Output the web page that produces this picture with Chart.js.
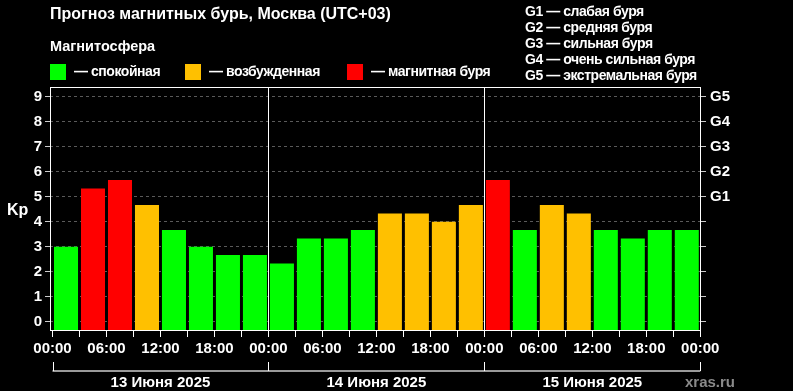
<!DOCTYPE html>
<html><head><meta charset="utf-8">
<script src="https://cdn.jsdelivr.net/npm/chart.js@4/dist/chart.umd.min.js"></script>
<style>
html,body{margin:0;padding:0;background:#000;}
#wrap{position:relative;width:793px;height:391px;background:#000;overflow:hidden;font-family:"Liberation Sans",Arial,sans-serif;font-weight:bold;color:#fff;}
#c{position:absolute;left:0;top:0;}
.t{position:absolute;white-space:nowrap;line-height:1;}
.lg{letter-spacing:-0.45px;}
.sq{position:absolute;width:16px;height:16px;}
</style></head><body>
<div id="wrap">
<canvas id="c" width="793" height="391"></canvas>
<div class="t" style="left:50px;top:6px;font-size:16px">Прогноз магнитных бурь, Москва (UTC+03)</div>
<div class="t" style="left:50px;top:39px;font-size:14.5px">Магнитосфера</div>
<div class="sq" style="left:50px;top:64px;background:#00ff00"></div>
<div class="t lg" style="left:74px;top:64px;font-size:14px">— спокойная</div>
<div class="sq" style="left:185px;top:64px;background:#ffc000"></div>
<div class="t lg" style="left:209px;top:64px;font-size:14px">— возбужденная</div>
<div class="sq" style="left:347px;top:64px;background:#ff0000"></div>
<div class="t lg" style="left:371px;top:64px;font-size:14px">— магнитная буря</div>
<div class="t lg" id="glist" style="left:525px;top:3px;font-size:14px;line-height:16px"></div>
<div class="t" style="left:7px;top:202px;font-size:16px">Kp</div>
<div class="t" style="left:685px;top:374px;font-size:15px;color:#8a8a8a">xras.ru</div>
</div>
<script>
// ---- data ----
const slotStartHours = [0,3,6,9,12,15,18,21,24,27,30,33,36,39,42,45,48,51,54,57,60,63,66,69];
const kpValues = [3.0,5.33,5.67,4.67,3.67,3.0,2.67,2.67,
                  2.33,3.33,3.33,3.67,4.33,4.33,4.0,4.67,
                  5.67,3.67,4.67,4.33,3.67,3.33,3.67,3.67];
const timeTickLabels = ['00:00','06:00','12:00','18:00'];
const dayLabels = ['13 Июня 2025','14 Июня 2025','15 Июня 2025'];
const dayCenters = [12,36,60];
const dayBoundaries = [0,24,48,72];
const kpTicks = [0,1,2,3,4,5,6,7,8,9];
const gLabels = ['G1','G2','G3','G4','G5'];
const gLegend = ['G1 — слабая буря','G2 — средняя буря','G3 — сильная буря','G4 — очень сильная буря','G5 — экстремальная буря'];

document.getElementById('glist').innerHTML = gLegend.join('<br>');

const X_MIN = -0.28, X_MAX = 72.08, Y_MIN = -0.33, Y_MAX = 9.39;
const FONT = {family:'"Liberation Sans", Arial, sans-serif', size:15, weight:'bold'};
function kpColor(v){ return v >= 5 ? '#ff0000' : (v >= 4 ? '#ffc000' : '#00ff00'); }

const framePlugin = {
  id:'frame',
  afterDatasetsDraw(chart){
    const {ctx, chartArea:a, scales} = chart;
    ctx.save();
    ctx.strokeStyle = '#ffffff'; ctx.lineWidth = 1;
    [24,48].forEach(h=>{
      const x = Math.round(scales.x.getPixelForValue(h)) + 0.5;
      ctx.beginPath(); ctx.moveTo(x, a.top); ctx.lineTo(x, a.bottom); ctx.stroke();
    });
    ctx.strokeRect(Math.round(a.left)+0.5, Math.round(a.top)+0.5, Math.round(a.width)-1, Math.round(a.height));
    ctx.restore();
  },
  afterDraw(chart){
    const {ctx, scales} = chart;
    const xs = scales.x, x2 = scales.xDay;
    const y = x2.top + 11;
    ctx.save();
    ctx.strokeStyle = '#9a9a9a'; ctx.lineWidth = 2;
    ctx.beginPath();
    ctx.moveTo(xs.getPixelForValue(dayBoundaries[0]), y);
    ctx.lineTo(xs.getPixelForValue(dayBoundaries[dayBoundaries.length-1]), y);
    ctx.stroke();
    ctx.strokeStyle = '#ffffff'; ctx.lineWidth = 1;
    dayBoundaries.forEach(h=>{
      const x = Math.round(xs.getPixelForValue(h)) + 0.5;
      ctx.beginPath(); ctx.moveTo(x, y - 9); ctx.lineTo(x, y); ctx.stroke();
    });
    ctx.restore();
  }
};

new Chart(document.getElementById('c'), {
  type:'bar',
  data:{
    datasets:[{
      data: kpValues.map((v,i)=>({x: slotStartHours[i] + 1.5, y: v})),
      backgroundColor: kpValues.map(kpColor),
      borderWidth:0,
      base: Y_MIN,
      barPercentage:0.89,
      categoryPercentage:1.0
    }]
  },
  options:{
    responsive:false, animation:false, devicePixelRatio:1,
    layout:{padding:{top:87,left:0,right:0,bottom:0}},
    plugins:{legend:{display:false}, tooltip:{enabled:false}},
    scales:{
      x:{
        type:'linear', position:'bottom', min:X_MIN, max:X_MAX, offset:false,
        afterBuildTicks(s){ s.ticks = slotStartHours.concat([72]).map(v=>({value:v})); },
        afterFit(s){ s.height = 30; },
        grid:{display:true, drawOnChartArea:false, offset:false, tickLength:7, tickColor:'#ffffff', color:'#ffffff'},
        border:{display:false},
        ticks:{autoSkip:false, maxRotation:0, minRotation:0, color:'#ffffff', font:FONT, padding:3,
          callback(v){ return v % 6 === 0 ? timeTickLabels[(v % 24) / 6] : ''; }}
      },
      xDay:{
        type:'linear', position:'bottom', min:X_MIN, max:X_MAX, offset:false,
        afterBuildTicks(s){ s.ticks = dayCenters.map(v=>({value:v})); },
        afterFit(s){ s.height = 31; },
        grid:{display:false, drawTicks:false, offset:false},
        border:{display:false},
        ticks:{autoSkip:false, maxRotation:0, minRotation:0, color:'#ffffff', font:FONT, padding:14,
          callback(v){ return dayLabels[dayCenters.indexOf(v)]; }}
      },
      y:{
        type:'linear', position:'left', min:Y_MIN, max:Y_MAX, beginAtZero:false,
        afterBuildTicks(s){ s.ticks = kpTicks.map(v=>({value:v})); },
        afterFit(s){ s.width = 50; },
        grid:{color:'#5a5a5a', tickColor:'#cccccc', tickLength:5, lineWidth:1},
        border:{display:false, dash:[3,3]},
        ticks:{color:'#ffffff', font:FONT, padding:3, callback(v){ return String(v); }}
      },
      y2:{
        type:'linear', position:'right', min:Y_MIN, max:Y_MAX, beginAtZero:false,
        afterBuildTicks(s){ s.ticks = kpTicks.map(v=>({value:v})); },
        afterFit(s){ s.width = 92; },
        grid:{drawOnChartArea:false, tickColor:'#cccccc', tickLength:5},
        border:{display:false},
        ticks:{color:'#ffffff', font:FONT, padding:4, callback(v){ return v >= 5 ? gLabels[v - 5] : ''; }}
      }
    }
  },
  plugins:[framePlugin]
});
</script>
</body></html>
